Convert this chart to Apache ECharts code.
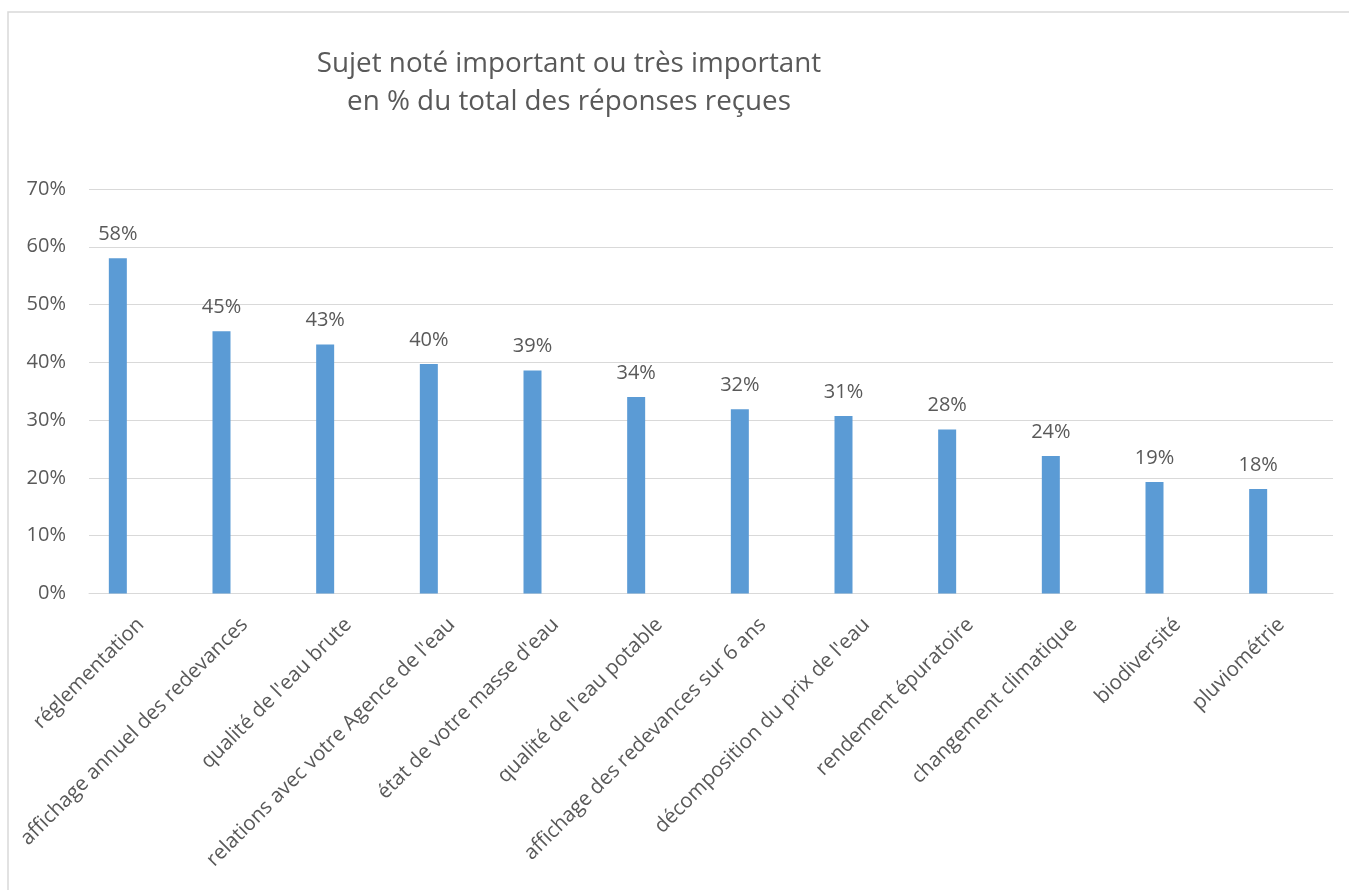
<!DOCTYPE html>
<html>
<head>
<meta charset="utf-8">
<script src="https://cdn.jsdelivr.net/npm/echarts@6/dist/echarts.min.js"></script>
<style>
html,body{margin:0;padding:0;background:#fff;}
#chart{width:1349px;height:890px;}
</style>
</head>
<body>
<div id="chart"></div>
<script>
const titleLines = ["Sujet noté important ou très important", "en % du total des réponses reçues"];
const categories = [
  "réglementation",
  "affichage annuel des redevances",
  "qualité de l'eau brute",
  "relations avec votre Agence de l'eau",
  "état de votre masse d'eau",
  "qualité de l'eau potable",
  "affichage des redevances sur 6 ans",
  "décomposition du prix de l'eau",
  "rendement épuratoire",
  "changement climatique",
  "biodiversité",
  "pluviométrie"
];
const values = [58.0, 45.4, 43.1, 39.7, 38.6, 34.0, 31.9, 30.7, 28.4, 23.8, 19.3, 18.1];
const yTicks = [0, 10, 20, 30, 40, 50, 60, 70];

const FONT = '"Open Sans", sans-serif';
const TXT = '#595959';
const GRIDC = '#D9D9D9';

const chart = echarts.init(document.getElementById('chart'), null, {renderer: 'canvas'});
chart.setOption({
  animation: false,
  backgroundColor: '#fff',
  textStyle: {fontFamily: FONT},
  title: {
    text: titleLines.join('\n'),
    left: 564, top: 40,
    textAlign: 'center',
    textStyle: {fontFamily: FONT, fontSize: 27.8, fontWeight: 'normal', color: TXT, lineHeight: 38}
  },
  graphic: [{
    type: 'rect', z: -1,
    shape: {x: 8, y: 12, width: 1400, height: 1000},
    style: {fill: 'none', stroke: GRIDC, lineWidth: 1.5}
  }],
  grid: [
    {left: 66, right: 39, top: 189, bottom: 296.5},
    {left: 89, right: 16, top: 189, bottom: 296.5}
  ],
  xAxis: [
    {gridIndex: 0, type: 'category', data: categories, show: false},
    {gridIndex: 1, type: 'category', data: categories,
     axisLine: {show: true, lineStyle: {color: GRIDC, width: 1}},
     axisTick: {show: false},
     axisLabel: {interval: 0, rotate: 45, margin: 28, fontSize: 20.5, color: TXT, fontFamily: FONT}}
  ],
  yAxis: [
    {gridIndex: 0, type: 'value', min: yTicks[0], max: yTicks[yTicks.length-1], interval: 10, show: false},
    {gridIndex: 1, type: 'value', min: yTicks[0], max: yTicks[yTicks.length-1], interval: 10,
     axisLine: {show: false}, axisTick: {show: false},
     splitLine: {lineStyle: {color: GRIDC, width: 1}},
     axisLabel: {margin: 23, fontSize: 20, color: TXT, fontFamily: FONT, formatter: '{value}%'}}
  ],
  series: [{
    type: 'bar',
    xAxisIndex: 0, yAxisIndex: 0,
    data: values,
    barWidth: 18,
    itemStyle: {color: '#5B9BD5'},
    label: {
      show: true, position: 'top', distance: 14,
      fontSize: 20, color: TXT, fontFamily: FONT,
      formatter: p => Math.round(p.value) + '%'
    }
  }]
});
</script>
</body>
</html>
